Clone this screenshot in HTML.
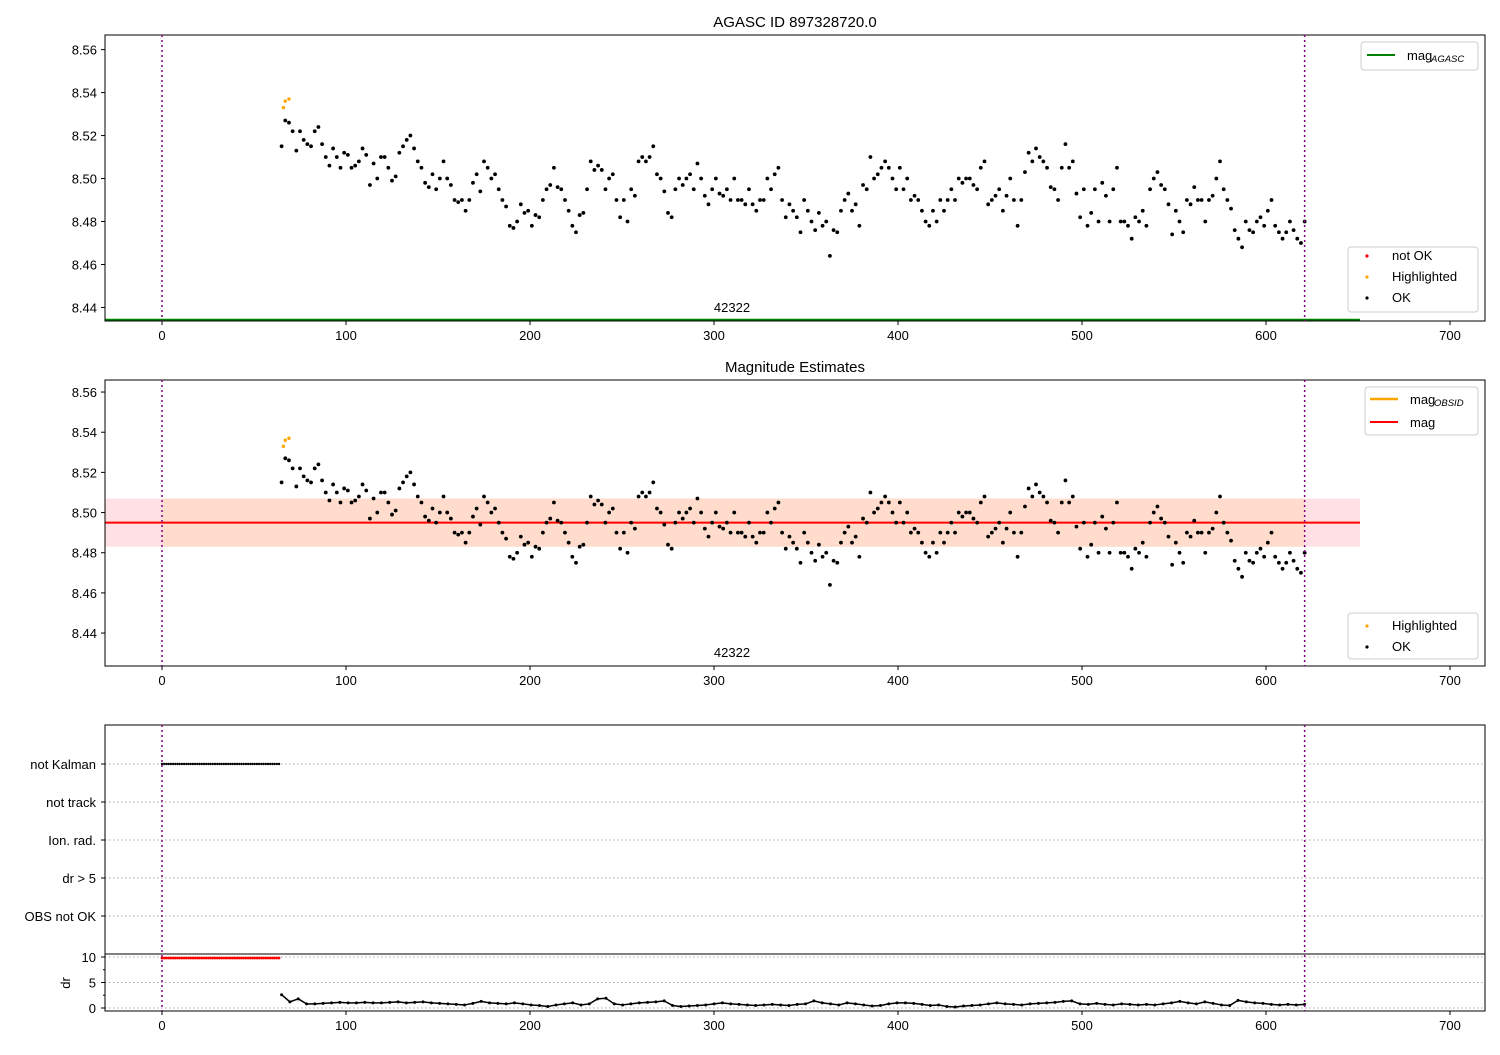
<!DOCTYPE html>
<html><head><meta charset="utf-8"><style>
body{margin:0;background:#fff}
svg text{font-family:"Liberation Sans",sans-serif;fill:#000}
</style></head><body>
<svg id="c" width="1500" height="1050" xmlns="http://www.w3.org/2000/svg"></svg>
<script>
const magT0 = 65, magDt = 2;
const magValues = [8.515,8.527,8.526,8.522,8.513,8.522,8.518,8.516,8.515,8.522,8.524,8.516,8.51,8.506,8.514,8.51,8.505,8.512,8.511,8.505,8.506,8.508,8.514,8.511,8.497,8.507,8.50,8.51,8.51,8.505,8.499,8.501,8.512,8.515,8.518,8.52,8.514,8.508,8.505,8.498,8.496,8.502,8.495,8.50,8.508,8.50,8.497,8.49,8.489,8.49,8.485,8.49,8.498,8.502,8.494,8.508,8.505,8.50,8.502,8.495,8.49,8.487,8.478,8.477,8.48,8.488,8.484,8.485,8.478,8.483,8.482,8.49,8.495,8.497,8.505,8.496,8.495,8.49,8.485,8.478,8.475,8.483,8.484,8.495,8.508,8.504,8.506,8.504,8.495,8.5,8.502,8.49,8.482,8.49,8.48,8.495,8.492,8.508,8.51,8.508,8.51,8.515,8.502,8.5,8.494,8.484,8.482,8.495,8.5,8.497,8.5,8.502,8.495,8.507,8.5,8.492,8.488,8.495,8.5,8.493,8.492,8.495,8.49,8.5,8.49,8.49,8.488,8.495,8.488,8.485,8.49,8.49,8.5,8.495,8.502,8.505,8.49,8.482,8.488,8.485,8.482,8.475,8.49,8.485,8.48,8.476,8.484,8.478,8.48,8.464,8.476,8.475,8.485,8.49,8.493,8.485,8.488,8.478,8.497,8.495,8.51,8.5,8.502,8.505,8.508,8.505,8.5,8.495,8.505,8.495,8.5,8.49,8.492,8.49,8.485,8.48,8.478,8.485,8.48,8.49,8.485,8.49,8.495,8.49,8.5,8.498,8.5,8.5,8.497,8.495,8.505,8.508,8.488,8.49,8.492,8.495,8.485,8.492,8.5,8.49,8.478,8.49,8.503,8.512,8.508,8.514,8.51,8.508,8.505,8.496,8.495,8.49,8.505,8.516,8.505,8.508,8.493,8.482,8.495,8.478,8.484,8.495,8.48,8.498,8.492,8.48,8.495,8.505,8.48,8.48,8.478,8.472,8.482,8.48,8.485,8.478,8.495,8.5,8.503,8.497,8.495,8.488,8.474,8.485,8.48,8.475,8.49,8.488,8.496,8.49,8.49,8.48,8.49,8.492,8.5,8.508,8.495,8.49,8.486,8.476,8.472,8.468,8.48,8.476,8.475,8.48,8.482,8.478,8.485,8.49,8.478,8.475,8.472,8.475,8.48,8.476,8.472,8.47,8.48];
const hiTimes = [66,67,69];
const hiValues = [8.533,8.536,8.537];
const drT0 = 65, drDt = 4.52;
const drValues = [2.6,1.2,1.8,0.8,0.8,0.9,1.0,1.1,1.0,1.0,1.1,1.0,1.0,1.1,1.2,1.0,1.1,1.2,1.0,0.9,0.8,0.7,0.6,0.9,1.3,1.0,0.9,0.8,1.0,0.8,0.6,0.5,0.3,0.6,0.8,1.0,0.6,0.8,1.8,1.9,0.8,0.6,0.8,1.0,1.1,1.2,1.4,0.5,0.3,0.4,0.5,0.6,0.8,1.0,0.8,0.7,0.6,0.5,0.6,0.7,0.6,0.5,0.7,0.8,1.4,1.0,0.8,0.6,1.0,0.8,0.6,0.4,0.5,0.8,1.0,1.0,0.9,0.7,0.5,0.6,0.3,0.2,0.4,0.5,0.6,0.8,1.0,0.8,0.7,0.6,0.8,0.9,1.0,1.1,1.3,1.4,0.8,0.7,0.9,0.7,0.6,0.8,0.7,0.6,0.7,0.6,0.8,1.0,1.3,1.0,0.8,1.2,0.9,0.6,0.5,1.5,1.2,1.0,0.9,0.7,0.6,0.7,0.6,0.7];
const flagLabels = ["not Kalman","not track","Ion. rad.","dr > 5","OBS not OK"];
const xTicks = [0,100,200,300,400,500,600,700];
const magTicks = [8.44,8.46,8.48,8.50,8.52,8.54,8.56];
const drTicks = [0,5,10];
const obsEnd = 621, magMean = 8.495, magLo = 8.483, magHi = 8.507;

const S=document.getElementById('c'),NS='http://www.w3.org/2000/svg';
function el(t,a,p){const e=document.createElementNS(NS,t);for(const k in a)e.setAttribute(k,a[k]);(p||S).appendChild(e);return e;}
function tx(x,y,s,a){const e=el('text',Object.assign({x:x,y:y,'font-size':13},a||{}));e.textContent=s;return e;}
const X=v=>162+v*1.84;
const L=105,R=1485;
function magPanel(top,bot,vmin,vmax,name){
  const g=el('g',{});
  
  
  const Y=v=>bot-(v-vmin)/(vmax-vmin)*(bot-top);
  return {g,Y};
}
const p1=magPanel(35,321,8.4337,8.5668,'top-panel');
const p2=magPanel(380,666,8.4236,8.566,'middle-panel');
let b=el('rect',{x:L,y:p2.Y(magHi),width:1360-L,height:p2.Y(magLo)-p2.Y(magHi),fill:'#ffe0e4'},p2.g);

b=el('rect',{x:X(0),y:p2.Y(magHi),width:X(obsEnd)-X(0),height:p2.Y(magLo)-p2.Y(magHi),fill:'#ffdccc'},p2.g);

b=el('line',{x1:L,x2:1360,y1:p2.Y(magMean),y2:p2.Y(magMean),stroke:'#ff0000','stroke-width':2},p2.g);

b=el('line',{x1:L,x2:1360,y1:320,y2:320,stroke:'#008000','stroke-width':2.5},p1.g);

[p1,p2].forEach((p,pi)=>{
  magValues.forEach((v,i)=>{const c=el('circle',{cx:X(magT0+i*magDt),cy:p.Y(v),r:1.9,fill:'#000'},p.g);
    });
  hiValues.forEach((v,i)=>{const c=el('circle',{cx:X(hiTimes[i]),cy:p.Y(v),r:1.7,fill:'orange'},p.g);
    });
  magTicks.forEach(t=>{const y=p.Y(t);el('line',{x1:L-4,x2:L,y1:y,y2:y,stroke:'#000'},p.g);tx(L-8,y+5,t.toFixed(2),{'text-anchor':'end'});});
});
[[321],[666],[1011]].forEach(([yb])=>{
  xTicks.forEach(t=>{el('line',{x1:X(t),x2:X(t),y1:yb,y2:yb+4,stroke:'#000'});tx(X(t),yb+19,String(t),{'text-anchor':'middle'});});
});
const FY=i=>764+i*38;
flagLabels.forEach((s,i)=>{el('line',{x1:L,x2:R,y1:FY(i),y2:FY(i),stroke:'#aaa','stroke-dasharray':'1.5,2.5'});
  el('line',{x1:L-4,x2:L,y1:FY(i),y2:FY(i),stroke:'#000'});
  const t=tx(L-9,FY(i)+5,s,{'text-anchor':'end'});});
for(let t=0;t<=64;t+=1.2){el('circle',{cx:X(t),cy:FY(0),r:1.2,fill:'#000'});}
const DY=v=>1008-v*5.1;
drTicks.forEach(t=>{el('line',{x1:L,x2:R,y1:DY(t),y2:DY(t),stroke:'#aaa','stroke-dasharray':'1.5,2.5'});
  el('line',{x1:L-4,x2:L,y1:DY(t),y2:DY(t),stroke:'#000'});tx(L-9,DY(t)+5,String(t),{'text-anchor':'end'});});
[2.5,7.5].forEach(t=>el('line',{x1:L-2,x2:L,y1:DY(t),y2:DY(t),stroke:'#000'}));
tx(70,983,'dr',{'text-anchor':'middle',transform:'rotate(-90 70 983)'});
for(let t=0;t<=64;t+=1.2){el('circle',{cx:X(t),cy:DY(9.8),r:1.4,fill:'#f00'});}
drValues.forEach((v,i)=>{const c=el('circle',{cx:X(drT0+i*drDt),cy:DY(v),r:1.5,fill:'#000'});
  });
for(let i=0;i<drValues.length-1;i++){el('line',{x1:X(drT0+i*drDt),y1:DY(drValues[i]),x2:X(drT0+(i+1)*drDt),y2:DY(drValues[i+1]),stroke:'#000','stroke-width':1.5});}
el('line',{x1:L,x2:R,y1:954,y2:954,stroke:'#000'});
[[35,321],[380,666],[725,1011]].forEach(([a,bb])=>{
  el('rect',{x:L,y:a,width:R-L,height:bb-a,fill:'none',stroke:'#000'});
  [0,obsEnd].forEach(t=>el('line',{x1:X(t),x2:X(t),y1:a,y2:bb,stroke:'#800080','stroke-width':1.5,'stroke-dasharray':'2,3'}));
});
tx(795,27,'AGASC ID 897328720.0',{'text-anchor':'middle','font-size':15});
tx(795,372,'Magnitude Estimates',{'text-anchor':'middle','font-size':15});
tx(732,312,'42322',{'text-anchor':'middle'});
tx(732,657,'42322',{'text-anchor':'middle'});
function box(x,y,w,h,n){const r=el('rect',{x,y,width:w,height:h,rx:3,fill:'#fff','fill-opacity':0.85,stroke:'#ccc'});}
box(1361,42,117,28,'legend-top');el('line',{x1:1367,x2:1395,y1:55,y2:55,stroke:'#008000','stroke-width':2});
tx(1407,60,'mag');tx(1431,62,'AGASC',{'font-size':9.5,'font-style':'italic'});
box(1348,247,130,65,'legend-status');
[['#f00','not OK',260],['orange','Highlighted',281],['#000','OK',302]].forEach(([c,s,y])=>{el('circle',{cx:1367,cy:y-4,r:1.6,fill:c});tx(1392,y,s);});
box(1365,387,113,48,'legend-mag');el('line',{x1:1370,x2:1398,y1:399,y2:399,stroke:'orange','stroke-width':2.5});
el('line',{x1:1370,x2:1398,y1:422,y2:422,stroke:'#f00','stroke-width':2});
tx(1410,404,'mag');tx(1434,406,'OBSID',{'font-size':9.5,'font-style':'italic'});tx(1410,427,'mag');
box(1348,613,130,46,'legend-status-2');
[['orange','Highlighted',630],['#000','OK',651]].forEach(([c,s,y])=>{el('circle',{cx:1367,cy:y-4,r:1.6,fill:c});tx(1392,y,s);});
</script>
</body></html>
